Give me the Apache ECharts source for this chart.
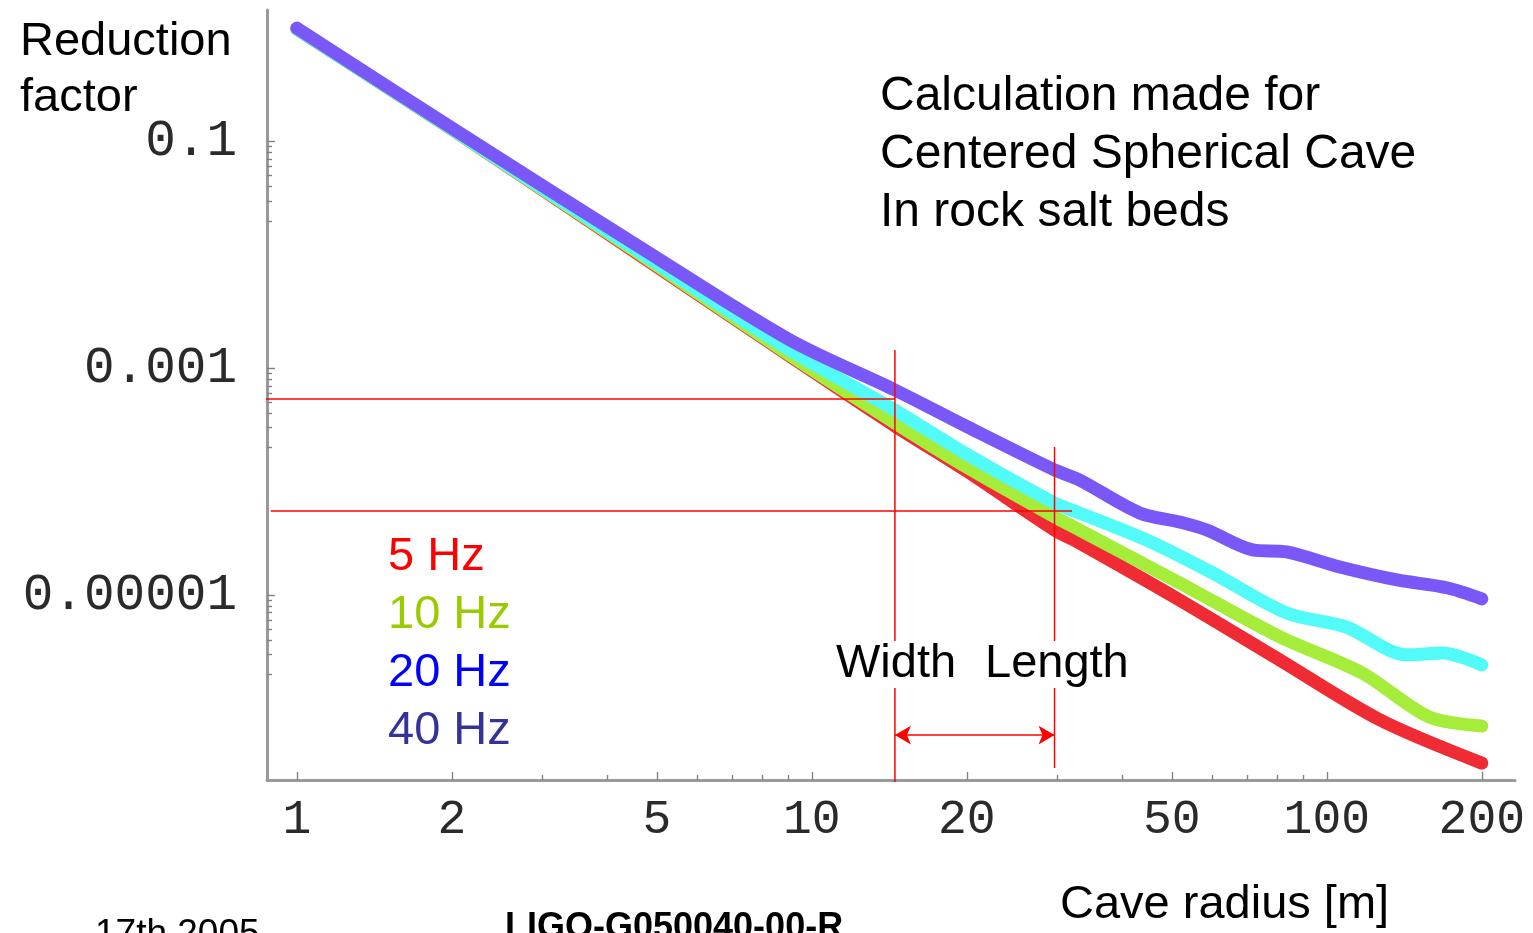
<!DOCTYPE html>
<html>
<head>
<meta charset="utf-8">
<title>Reduction factor vs cave radius</title>
<script src="https://cdn.jsdelivr.net/npm/echarts@6/dist/echarts.min.js"></script>
<style>
  html, body { margin: 0; padding: 0; background: #fff; }
  #main { width: 1533px; height: 933px; }
</style>
</head>
<body>
<div id="main"></div>
<script>
// cave radius [m] / reduction factor
var r5 = [1, 2, 4.63, 9.06, 14.5, 20.1, 29.6, 33.1, 51.8, 81.1, 127, 200];
var f5 = [0.98, 0.128, 0.00998, 0.00128, 3.10e-4, 1.22e-4, 3.75e-5, 2.88e-5, 9.04e-6, 2.67e-6, 7.91e-7, 3.30e-7];

var r10 = [1, 2, 4.63, 9.06, 14.5, 20.1, 29.6, 33.1, 51.8, 81.1, 117, 158, 200];
var f10 = [0.98, 0.128, 0.0102, 0.00131, 3.30e-4, 1.32e-4, 4.89e-5, 3.75e-5, 1.28e-5, 4.28e-6, 2.06e-6, 8.41e-7, 7.0e-7];

var r20 = [1, 2, 4.63, 9.06, 14.5, 20.1, 29.6, 33.1, 44.7, 60, 83.6, 109, 143, 168, 200];
var f20 = [0.98, 0.129, 0.0106, 0.00145, 4.28e-4, 1.72e-4, 6.49e-5, 5.30e-5, 3.06e-5, 1.57e-5, 6.95e-6, 5.23e-6, 2.97e-6, 3.09e-6, 2.42e-6];

var r40 = [1, 2, 4.63, 9.06, 14.5, 20.1, 29.6, 33.1, 43.3, 51.8, 58.5, 71.8, 83.6, 106, 137, 171, 200];
var f40 = [1.0, 0.1315, 0.01175, 0.00178, 6.44e-4, 3.03e-4, 1.27e-4, 1.035e-4, 5.30e-5, 4.41e-5, 3.75e-5, 2.50e-5, 2.40e-5, 1.77e-5, 1.36e-5, 1.16e-5, 9.25e-6];

var seriesNames = ['5 Hz', '10 Hz', '20 Hz', '40 Hz'];

// width / length markers
var widthR = 14.5;
var lengthR = 29.6;
var hLine1 = [[0.829, 5.36e-4], [widthR, 5.36e-4]];
var hLine2 = [[0.89, 5.52e-5], [32.0, 5.52e-5]];
var vLine1 = [[widthR, 1.45e-3], [widthR, 2.25e-7]];
var vLine2 = [[lengthR, 2.02e-4], [lengthR, 2.99e-7]];
var arrowY = 5.83e-7;

// axes
var xMin = 0.875, xMax = 232;
var yMin = 2.34e-7, yMax = 1.445;
var xTicks = [1, 2, 5, 10, 20, 50, 100, 200];
var xTickLabels = ['1', '2', '5', '10', '20', '50', '100', '200'];
var xMinorTicks = [3, 4, 6, 7, 8, 9, 30, 40, 60, 70, 80, 90];
var yTicks = [0.1, 0.001, 0.00001];
var yTickLabels = ['0.1', '0.001', '0.00001'];
var yMinorTicks = [0.09, 0.08, 0.07, 0.06, 0.05, 0.04, 0.03, 0.02,
                   9e-4, 8e-4, 7e-4, 6e-4, 5e-4, 4e-4, 3e-4, 2e-4,
                   9e-6, 8e-6, 7e-6, 6e-6, 5e-6, 4e-6, 3e-6, 2e-6];

var lg = Math.log10;

function pairs(r, f) {
    return r.map(function (v, i) { return [v, f[i]]; });
}

function tickLabel(ticks, labels) {
    return function (v) {
        for (var i = 0; i < ticks.length; i++) {
            if (Math.abs(lg(ticks[i]) - v) < 1e-6) return labels[i];
        }
        return '';
    };
}

function curve(name, r, f, color) {
    return {
        name: name,
        type: 'line',
        data: pairs(r, f),
        symbol: 'none',
        smooth: 0.3,
        silent: true,
        xAxisIndex: 0,
        yAxisIndex: 0,
        itemStyle: { color: color },
        lineStyle: { width: 13, color: color, cap: 'round', join: 'round' },
        z: 2
    };
}

function redLine(data) {
    return {
        type: 'line',
        data: data,
        symbol: 'none',
        clip: false,
        silent: true,
        xAxisIndex: 0,
        yAxisIndex: 0,
        lineStyle: { width: 1.5, color: '#ff0000' },
        z: 3
    };
}

var arrowSeries = redLine([]);
arrowSeries.markLine = {
    silent: true,
    animation: false,
    symbol: ['arrow', 'arrow'],
    symbolSize: [14, 16],
    label: { show: false },
    lineStyle: { color: '#ff0000', width: 1.5, type: 'solid' },
    data: [[{ coord: [widthR, arrowY] }, { coord: [lengthR, arrowY] }]]
};

var axisColor = '#9a9a9a';
var monoFont = '"Liberation Mono", "Courier New", monospace';
var textFont = '"Liberation Sans", Arial, sans-serif';

// value axes in log10 units, only there to carry the ticks and labels
function tickAxis(lo, hi, pos, ticks, opts) {
    return {
        type: 'value', min: lg(lo), max: lg(hi), position: pos,
        axisLine: { show: !!opts.line, onZero: false, lineStyle: { color: axisColor, width: 3 } },
        axisTick: { show: true, inside: true, length: opts.len, customValues: ticks.map(lg), lineStyle: { color: '#808080', width: 1.4 } },
        axisLabel: opts.label || { show: false },
        splitLine: { show: false }
    };
}

var option = {
    animation: false,
    backgroundColor: '#fff',
    grid: { left: 267, right: 18, top: 10, bottom: 153, containLabel: false, outerBoundsMode: 'none' },
    legend: {
        orient: 'vertical',
        left: 378,
        top: 529,
        icon: 'none',
        itemWidth: 0,
        itemGap: 11,
        selectedMode: false,
        textStyle: { fontFamily: textFont, fontSize: 47 },
        data: [
            { name: seriesNames[0], textStyle: { color: '#ff0000' } },
            { name: seriesNames[1], textStyle: { color: '#99cc00' } },
            { name: seriesNames[2], textStyle: { color: '#0000ff' } },
            { name: seriesNames[3], textStyle: { color: '#333399' } }
        ]
    },
    xAxis: [
        { type: 'log', min: xMin, max: xMax, show: false },
        tickAxis(xMin, xMax, 'bottom', xTicks, {
            line: true, len: 8,
            label: {
                customValues: xTicks.map(lg), formatter: tickLabel(xTicks, xTickLabels),
                fontFamily: monoFont, fontSize: 48, color: '#2a2a2a', margin: 16
            }
        }),
        tickAxis(xMin, xMax, 'bottom', xMinorTicks, { len: 5 })
    ],
    yAxis: [
        { type: 'log', min: yMin, max: yMax, show: false },
        tickAxis(yMin, yMax, 'left', yTicks, {
            line: true, len: 8,
            label: {
                customValues: yTicks.map(lg), formatter: tickLabel(yTicks, yTickLabels),
                fontFamily: monoFont, fontSize: 51, color: '#2a2a2a', margin: 30
            }
        }),
        tickAxis(yMin, yMax, 'left', yMinorTicks, { len: 5 })
    ],
    series: [
        curve(seriesNames[0], r5, f5, '#ef2c34'),
        curve(seriesNames[1], r10, f10, '#a6ec3a'),
        curve(seriesNames[2], r20, f20, '#52fbf8'),
        curve(seriesNames[3], r40, f40, '#7a58f8'),
        redLine(hLine1),
        redLine(hLine2),
        redLine(vLine1),
        redLine(vLine2),
        arrowSeries
    ],
    graphic: [
        {
            type: 'text', left: 20, top: 14, z: 100,
            style: { text: 'Reduction\nfactor', font: '47px ' + textFont, fill: '#000', lineHeight: 56 }
        },
        {
            type: 'text', left: 880, top: 68, z: 100,
            style: { text: 'Calculation made for\nCentered Spherical Cave\nIn rock salt beds', font: '48px ' + textFont, fill: '#000', lineHeight: 58 }
        },
        {
            type: 'text', left: 836, top: 641, z: 100,
            style: { text: 'Width', font: '47px ' + textFont, fill: '#000', backgroundColor: '#fff' }
        },
        {
            type: 'text', left: 985, top: 641, z: 100,
            style: { text: 'Length', font: '47px ' + textFont, fill: '#000', backgroundColor: '#fff' }
        },
        {
            type: 'text', left: 1060, top: 882, z: 100,
            style: { text: 'Cave radius [m]', font: '47px ' + textFont, fill: '#000' }
        },
        {
            type: 'text', left: 505, top: 910, z: 100,
            style: { text: 'LIGO-G050040-00-R', font: 'bold 36px ' + textFont, fill: '#000' }
        },
        {
            type: 'text', left: 95, top: 916, z: 100,
            style: { text: '17th 2005', font: '37px ' + textFont, fill: '#000' }
        }
    ]
};

var chart = echarts.init(document.getElementById('main'));
chart.setOption(option);
window.addEventListener('resize', function () { chart.resize(); });
</script>
</body>
</html>
